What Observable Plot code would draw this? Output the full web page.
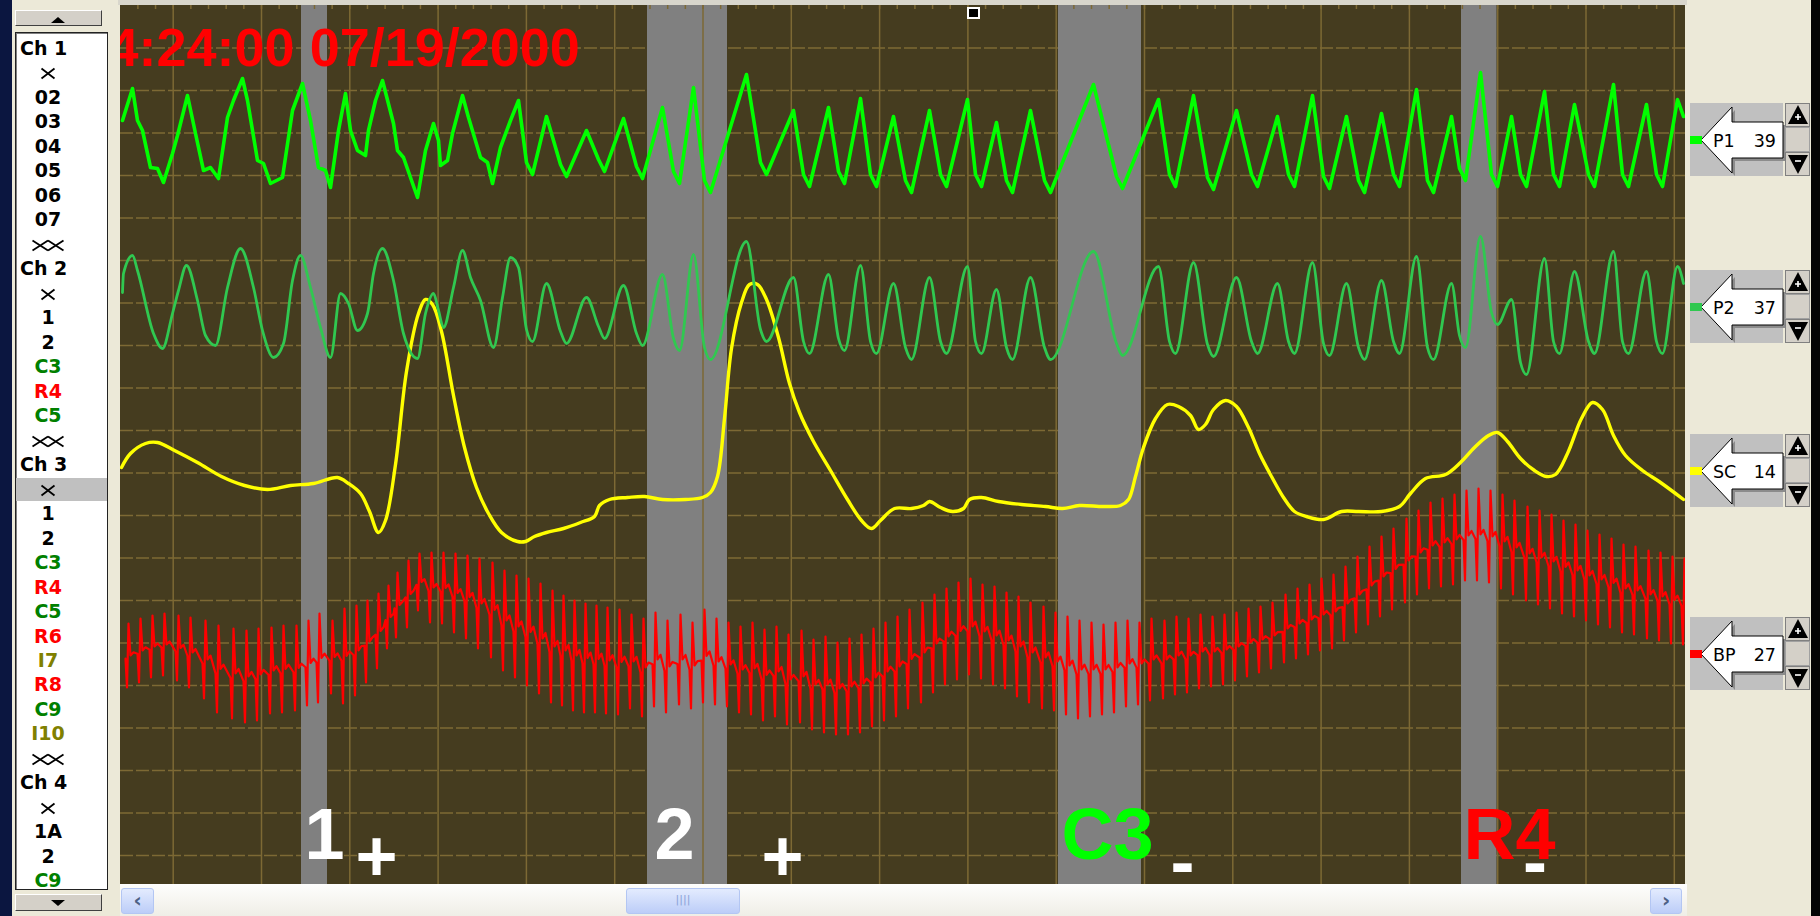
<!DOCTYPE html>
<html><head><meta charset="utf-8">
<script src="https://cdn.jsdelivr.net/npm/d3@7"></script>
<script src="https://cdn.jsdelivr.net/npm/@observablehq/plot@0.6"></script>
<style>
body{margin:0;width:1820px;height:916px;overflow:hidden;background:#0b1640;position:relative;font-family:"DejaVu Sans",sans-serif}
.abs{position:absolute}
#win{left:12px;top:0;width:1799px;height:916px;background:#ECE9D8}
#rightblack{left:1811px;top:0;width:9px;height:916px;background:#050505}
#list{left:15px;top:32px;width:91px;height:856px;background:#fff;border:1px solid #222;box-shadow:inset 1px 1px 0 #808080;overflow:hidden}
.item{position:absolute;left:0;width:64px;height:23px;line-height:23px;font-weight:bold;font-size:19px;text-align:center;font-family:"DejaVu Sans",sans-serif;white-space:nowrap}
.item.ch{text-align:left;padding-left:4px;width:87px}
.btn{background:#D4D0C8;border-top:1px solid #fff;border-left:1px solid #fff;border-right:1px solid #404040;border-bottom:1px solid #404040;box-sizing:border-box}
#plotwrap{left:120px;top:5px;width:1565px;height:911px;overflow:hidden}
#plotwrap svg{display:block}
#topline{left:118px;top:0;width:1569px;height:5px;background:#d8d6cc}
#track{left:120px;top:884px;width:1567px;height:32px;background:linear-gradient(#fefefd,#efeee6)}
.sbtn{position:absolute;top:888px;height:26px;border:1px solid #b3c6f3;border-radius:3px;background:linear-gradient(#e3ebfe,#bccdf8);box-sizing:border-box;color:#4d6185;font-weight:bold;font-size:20px;text-align:center;line-height:22px;font-family:"DejaVu Sans",sans-serif}
</style></head><body>
<div id="win" class="abs"></div>
<div id="rightblack" class="abs"></div>
<div id="topline" class="abs"></div>
<div class="abs btn" style="left:15px;top:10px;width:87px;height:16px"><svg width="85" height="14"><polygon points="35,11 42,5 49,11" fill="#000"/></svg></div>
<div id="list" class="abs"></div>
<div class="abs btn" style="left:15px;top:894px;width:87px;height:17px"><svg width="85" height="15"><polygon points="35,5 42,11 49,5" fill="#000"/></svg></div>
<div id="plotwrap" class="abs"></div>
<div class="abs" style="left:967px;top:7px;width:9px;height:8px;background:#000;border:2px solid #fff"></div>
<div id="track" class="abs"></div>
<div class="sbtn" style="left:121px;width:33px">&#8249;</div>
<div class="sbtn" style="left:626px;width:114px;font-size:11px;font-weight:normal;color:#8aa2d8">||||</div>
<div class="sbtn" style="left:1650px;width:32px">&#8250;</div>
<div id="right"></div>
<script>
// ---------------- DATA ----------------
// left list
const listLabels = ["Ch 1","X","02","03","04","05","06","07","XX","Ch 2","X","1","2","C3","R4","C5","XX","Ch 3","X","1","2","C3","R4","C5","R6","I7","R8","C9","I10","XX","Ch 4","X","1A","2","C9"];
const listColors = ["#000","#000","#000","#000","#000","#000","#000","#000","#000","#000","#000","#000","#000","#008000","#ff0000","#008000","#000","#000","#000","#000","#000","#008000","#ff0000","#008000","#ff0000","#808000","#ff0000","#008000","#808000","#000","#000","#000","#000","#000","#008000"];
const selectedIndex = 18;

// channel widgets
const chanNames = ["P1","P2","SC","BP"];
const chanValues = ["39","37","14","27"];
const chanColors = ["#00ff00","#30c850","#ffff00","#ff0000"];

// grid (time in samples, amplitude units)
const vGrid = [52.7,141,229.3,317.6,405.9,494.2,582.5,670.8,759.1,847.4,935.7,1024,1112.3,1200.6,1288.9,1377.2,1465.5,1553.8];
const hGrid = [836.5,794,751.5,709,666.5,624,581.5,539,496.5,454,411.5,369,326.5,284,241.5,199,156.5,114,71.5,29];

// question markers (gray bands)
const bandStart = [181, 527, 938, 1341];
const bandEnd   = [207, 607, 1021, 1376.5];

// labels
const qLabels = ["1","2","C3","R4"];
const qLabelX = [184, 534, 941, 1343];
const qLabelColor = ["#ffffff","#ffffff","#00ff00","#ff0000"];
const signLabels = ["+","+","-","-"];
const signX = [256, 662, 1062, 1414.5];
const titleText = "4:24:00 07/19/2000";

// P1 (upper pneumo)
const p1T = [2,12,17,22,30,37,43,52,57,67,75,83,90,98,107,113,122,127,137,143,150,162,172,182,190,198,205,210,218,225,230,237,245,248,255,262,273,277,283,290,297,305,313,318,320,327,332,342,348,357,360,367,372,380,390,
  398,406,412,426,440,446,466,478,484,503,516,522,542,553,559,573,584,590,626,640,646,673,683,689,708,718,724,740,750,756,773,785,791,809,820,826,847,855,861,876,886,892,910,924,930,973,996,1002,1038,1049,1055,1073,1087,1093,1116,1131,1137,1157,1168,1174,1192,1203,1209,1226,1238,1244,1261,1273,1279,1296,1307,1313,1331,1339,1345,1360,1371,1377,1391,1400,1406,1424,1433,1439,1454,1468,1474,1493,1502,1508,1526,1536,1542,1557,1563];
const p1A = [764,796,764,754,717,716,702,731,749,789,751,714,717,706,767,784,806,784,724,721,701,707,774,801,764,717,714,697,754,791,754,734,729,754,784,804,761,734,727,707,687,734,761,744,719,724,751,789,767,737,727,722,701,737,764,
  784,722,710,768,720,708,754,725,713,766,718,706,777,713,701,797,704,692,810,722,710,774,710,698,777,713,701,786,710,698,768,704,692,774,710,698,785,710,698,762,704,692,774,704,692,800,708,696,785,710,698,789,707,695,774,710,698,768,710,698,789,708,696,768,704,692,771,710,698,795,704,692,768,716,704,812,710,698,768,710,698,793,710,698,780,710,698,800,710,698,780,710,698,785,768];

// P2 (lower pneumo)
const p2T = [2,3,12,17,33,42,52,58,66,77,85,95,107,120,133,142,153,163,172,180,190,200,210,220,228,237,247,253,262,273,283,297,305,313,318,323,333,342,350,360,373,382,390,
  398,406,412,426,440,446,466,478,484,503,516,522,542,553,559,573,584,590,626,640,646,673,683,689,708,718,724,740,750,756,773,785,791,809,820,826,847,855,861,876,886,892,910,924,930,973,996,1002,1038,1049,1055,1073,1087,1093,1116,1131,1137,1157,1168,1174,1192,1203,1209,1226,1238,1244,1261,1273,1279,1296,1307,1313,1331,1339,1345,1360,1371,1377,1391,1400,1406,1424,1433,1439,1454,1468,1474,1493,1502,1508,1526,1536,1542,1557,1563];
const p2A = [592,611,629,614,551,536,571,594,619,584,549,539,597,636,597,554,527,541,604,629,597,557,527,591,581,554,571,611,636,604,551,526,571,591,574,557,597,634,607,584,537,587,627,
  617,555,543,601,553,541,587,558,546,599,551,539,610,546,534,630,537,525,643,555,543,607,543,531,610,546,534,619,543,531,601,537,525,607,543,531,618,543,531,595,537,525,607,537,525,633,541,529,618,543,531,622,540,528,607,543,531,601,543,531,622,541,529,601,537,525,604,543,531,628,537,525,601,549,537,648,572,560,585,522,510,626,543,531,613,543,531,633,543,531,613,543,531,618,601];

// SC (skin conductance)
const scT = [1,10,25,37,54,77,101,124,147,170,193,217,228,240,249,258,265,275,286,298,305,312,321,333,344,356,368,381,397,405,414,426,443,460,474,479,489,507,524,542,565,582,590,597,604,611,621,629,637,646,658,669,679,693,710,727,741,751,760,774,791,803,809,820,832,843,849,861,878,901,925,942,959,983,1000,1008,1015,1023,1035,1047,1058,1070,1078,1085,1093,1105,1116,1128,1139,1151,1163,1174,1186,1203,1221,1238,1261,1279,1290,1305,1325,1340,1354,1368,1377,1387,1400,1414,1426,1435,1447,1461,1472,1482,1493,1505,1522,1540,1563];
const scA = [417,431,441,442,434,422,408,399,395,399,401,407,401,391,373,352,364,420,513,571,585,580,553,489,437,397,371,352,343,343,348,352,356,362,368,379,385,387,388,385,385,387,392,408,466,536,582,600,600,585,547,501,472,443,414,385,364,356,364,376,376,379,383,377,373,376,385,387,383,380,378,376,379,378,379,385,408,437,466,480,478,469,455,460,475,484,478,457,431,408,387,373,368,365,373,373,373,378,391,406,410,422,437,449,452,443,426,414,408,410,431,466,482,475,449,429,414,402,385];

// BP beats: time of systolic peak, systolic and diastolic amplitude
const bpT = [8,20,32,44,58,70,85,98,113,126,138,151,163,176,188,199,212,224,236,247,258,268,277,288,299,311,323,335,347,359,372,384,396,408,420,432,443,454,465,476,487,
  499,511,523,535,547,560,572,584,596,608,620,632,644,656,668,681,693,705,717,729,741,753,765,777,789,802,814,826,838,850,862,874,886,898,910,923,935,947,959,971,983,995,1007,1019,1031,1044,1056,1068,1080,1092,1104,1116,1128,1140,1152,1165,1177,1189,1201,1213,1225,1237,1249,1261,1273,1286,1298,1310,1322,1334,1346,1358,1370,1382,1394,1407,1419,1431,1443,1455,1467,1479,1491,1503,1515,1528,1540,1552,1564];
const bpSys = [261,266,269,271,269,267,264,259,256,254,256,257,259,259,264,271,264,276,279,284,291,299,312,324,331,332,332,331,329,326,322,314,309,306,301,294,289,284,281,279,277,
  275,270,266,272,264,270,262,275,266,262,258,262,255,258,250,254,245,248,242,246,250,256,262,268,275,282,290,296,302,306,300,298,292,288,282,278,272,268,264,262,260,262,264,262,266,264,268,266,270,268,270,272,276,278,282,290,296,300,306,310,318,328,338,348,356,366,374,382,386,390,394,396,394,390,384,378,374,370,364,360,354,350,346,340,338,334,332,328,326];
const bpDia = [197,202,207,209,204,197,186,172,166,162,164,171,172,174,179,182,191,181,189,202,216,236,247,257,274,262,261,252,246,236,227,214,207,199,191,182,179,174,172,172,171,
  170,176,168,178,172,180,176,182,180,178,172,170,164,168,160,162,155,152,150,150,152,158,164,168,176,182,192,200,205,210,206,200,196,188,182,176,174,170,166,168,170,172,178,180,184,186,190,192,196,198,200,204,208,212,216,222,226,230,234,236,244,252,260,268,275,282,290,296,298,300,304,304,302,296,290,284,280,276,271,268,264,260,257,252,250,246,244,241,240];

// ---------------- BUILD ----------------
const xSvg = "<svg width='16' height='13' style='vertical-align:middle'><path d='M1.5,1.5 L14.5,11.5 M14.5,1.5 L1.5,11.5' stroke='#000' stroke-width='1.8'/></svg>";
const xxSvg = "<svg width='34' height='13' style='vertical-align:middle'><path d='M1.5,1.5 L17,11.5 M17,1.5 L1.5,11.5 M17,1.5 L32.5,11.5 M32.5,1.5 L17,11.5' stroke='#000' stroke-width='1.8'/></svg>";
const list = document.getElementById("list");
listLabels.forEach((lab, i) => {
  const d = document.createElement("div");
  d.className = "item" + (lab.startsWith("Ch") ? " ch" : "");
  d.style.top = (4 + i * 24.48) + "px";
  d.style.color = listColors[i];
  if (lab === "X") d.innerHTML = xSvg;
  else if (lab === "XX") d.innerHTML = xxSvg;
  else d.textContent = lab;
  if (i === selectedIndex) {
    const bg = document.createElement("div");
    bg.style.cssText = `position:absolute;left:0;top:${4 + i * 24.48}px;width:91px;height:23px;background:#c0c0c0`;
    list.appendChild(bg);
  }
  list.appendChild(d);
});

const right = document.getElementById("right");
const tops = [103, 270, 434, 617];
chanNames.forEach((nm, i) => {
  const s = `<svg class="abs" style="left:1688px;top:${tops[i]}px" width="124" height="74">
   <rect x="2" y="0" width="93" height="73" fill="#c0c0c0"/>
   <polygon points="17,40 47,7 47,22 98,22 98,58 47,58 47,73" fill="#8c8c8c"/>
   <polygon points="13,37 44,4 44,19 95,19 95,55 44,55 44,70" fill="#fff" stroke="#000" stroke-width="1"/>
   <rect x="2" y="33" width="12" height="8" fill="${chanColors[i]}"/>
   <text x="25" y="44" font-family="DejaVu Sans" font-size="17.5" fill="#000">${nm}</text>
   <text x="88" y="44" text-anchor="end" font-family="DejaVu Sans" font-size="17.5" fill="#000">${chanValues[i]}</text>
   <rect x="97.5" y="0.5" width="24" height="23" fill="#d4d0c8" stroke="#808080"/>
   <polygon points="100,21 110,2 120,21" fill="#000"/>
   <path d="M107,14 h6 M110,11 v6" stroke="#fff" stroke-width="1.6"/>
   <rect x="97.5" y="24.5" width="24" height="24" fill="#d4d0c8" stroke="#a0a0a0"/>
   <rect x="97.5" y="49.5" width="24" height="23" fill="#d4d0c8" stroke="#808080"/>
   <polygon points="100,52 110,71 120,52" fill="#000"/>
   <path d="M107,58 h6" stroke="#fff" stroke-width="1.6"/>
  </svg>`;
  right.insertAdjacentHTML("beforeend", s);
});

// line data
const p1 = p1T.map((t, i) => ({t, a: p1A[i]}));
const p2 = p2T.map((t, i) => ({t, a: p2A[i]}));
const sc = scT.map((t, i) => ({t, a: scA[i]}));
// each beat drawn as: diastolic foot, systolic peak, dicrotic notch
const bp = [];
bpT.forEach((t, i) => {
  const s = bpSys[i], d = bpDia[i], r = s - d;
  bp.push({t: t - 3, a: d + 0.45 * r});
  bp.push({t: t - 1.5, a: d});
  bp.push({t: t, a: s});
  bp.push({t: t + 2, a: d + 0.5 * r});
  bp.push({t: t + 5, a: d + 0.55 * r});
});

const gridColor = "#7d6934";
const minor = d3.range(17.38, 1565, 17.66);
const chart = Plot.plot({
  width: 1565, height: 911,
  marginTop: 0, marginRight: 0, marginBottom: 32, marginLeft: 0,
  x: {domain: [0, 1565], axis: null},
  y: {domain: [0, 879], axis: null},
  color: {type: "identity"},
  style: {background: "#453c1f"},
  marks: [
    Plot.ruleY(hGrid, {stroke: gridColor, strokeWidth: 1.5, strokeDasharray: "13,3"}),
    Plot.rect(bandStart, {x1: (d) => d, x2: (d, i) => bandEnd[i], y1: 0, y2: 879, fill: "#808080"}),
    Plot.ruleX(vGrid, {y1: 0, y2: 879, stroke: gridColor, strokeWidth: 1.5}),
    Plot.ruleX(minor, {y1: 875, y2: 879, stroke: gridColor, strokeWidth: 1.5}),
    Plot.line(bp, {x: "t", y: "a", stroke: "#ff0000", strokeWidth: 2.2}),
    Plot.line(sc, {x: "t", y: "a", stroke: "#ffff00", strokeWidth: 3.4, curve: "catmull-rom"}),
    Plot.line(p2, {x: "t", y: "a", stroke: "#30c850", strokeWidth: 2.8, curve: "monotone-x"}),
    Plot.line(p1, {x: "t", y: "a", stroke: "#00ff00", strokeWidth: 3.6}),
    Plot.text([titleText], {x: -12, y: 819, text: d => d, fill: "#ff0000", fontSize: 54, fontWeight: "bold", fontFamily: "Liberation Sans", textAnchor: "start", lineAnchor: "bottom"}),
    Plot.text(qLabels, {x: (d, i) => qLabelX[i], y: 26, text: d => d, fill: (d, i) => qLabelColor[i], fontSize: 72, fontWeight: "bold", fontFamily: "Liberation Sans", textAnchor: "start", lineAnchor: "bottom"}),
    Plot.text(signLabels, {x: (d, i) => signX[i], y: (d, i) => i < 2 ? 3.5 : -1, text: d => d, fill: "#ffffff", fontSize: 72, fontWeight: "bold", fontFamily: "Liberation Sans", textAnchor: "middle", lineAnchor: "bottom"})
  ]
});
document.getElementById("plotwrap").appendChild(chart);
</script>
</body></html>
